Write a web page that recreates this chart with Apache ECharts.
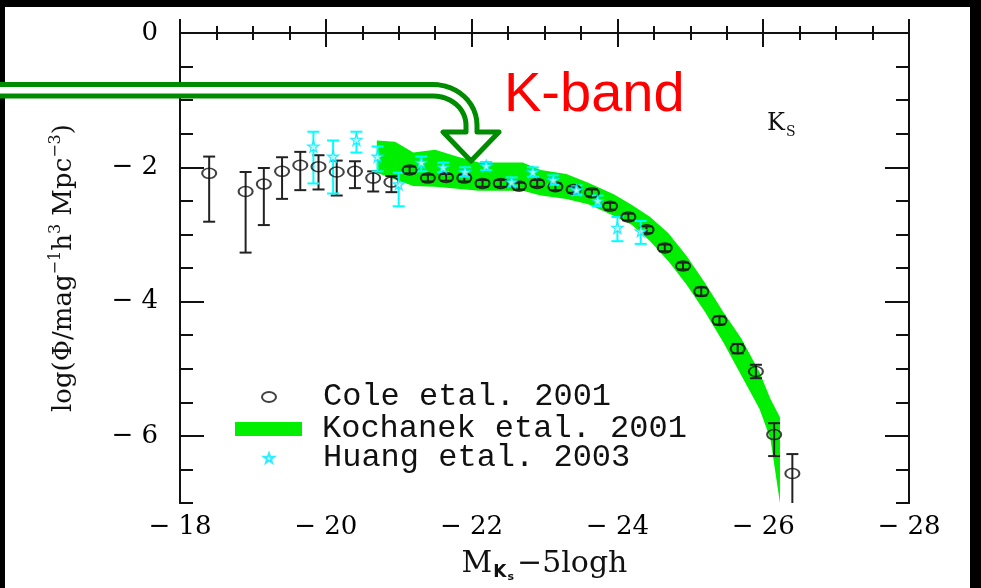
<!DOCTYPE html>
<html>
<head>
<meta charset="utf-8">
<script src="https://cdn.jsdelivr.net/npm/echarts@6/dist/echarts.min.js"></script>
<style>
html, body { margin: 0; padding: 0; background: #000; }
#box1 { width: 981px; height: 588px; }
</style>
</head>
<body>
<div id="box1"></div>
<script>
// Cole et al. 2001 (圆圈 + 误差棒)
var coleX  = [-18.40, -18.90, -19.15, -19.40, -19.65, -19.90, -20.15, -20.40, -20.65, -20.90, -21.15, -21.40, -21.65, -21.90, -22.15, -22.40, -22.65, -22.90, -23.15, -23.40, -23.65, -23.90, -24.15, -24.40, -24.65, -24.90, -25.15, -25.40, -25.65, -25.90, -26.15, -26.40];
var coleY  = [-2.09, -2.36, -2.25, -2.06, -1.97, -1.99, -2.07, -2.06, -2.16, -2.22, -2.04, -2.16, -2.15, -2.16, -2.24, -2.24, -2.28, -2.24, -2.29, -2.33, -2.38, -2.58, -2.74, -2.93, -3.20, -3.47, -3.85, -4.28, -4.70, -5.04, -5.98, -6.56];
var coleLo = [-2.81, -3.27, -2.86, -2.47, -2.34, -2.33, -2.42, -2.31, -2.36, -2.37, -2.09, -2.21, -2.20, -2.21, -2.29, -2.29, -2.33, -2.29, -2.34, -2.38, -2.43, -2.63, -2.79, -2.98, -3.25, -3.52, -3.91, -4.34, -4.77, -5.14, -6.30, -7.30];
var coleHi = [-1.84, -2.07, -2.01, -1.85, -1.77, -1.82, -1.90, -1.91, -2.06, -2.13, -1.99, -2.11, -2.10, -2.11, -2.19, -2.19, -2.23, -2.19, -2.24, -2.28, -2.33, -2.53, -2.69, -2.88, -3.15, -3.42, -3.79, -4.22, -4.63, -4.94, -5.81, -6.27];

// Huang et al. 2003 (星号 + 误差棒)
var huangX  = [-19.83, -20.10, -20.42, -20.71, -21.00, -21.31, -21.61, -21.91, -22.20, -22.55, -22.84, -23.12, -23.44, -23.73, -24.00, -24.32];
var huangY  = [-1.69, -1.84, -1.59, -1.84, -2.25, -1.93, -2.00, -2.07, -1.98, -2.22, -2.07, -2.19, -2.34, -2.50, -2.90, -2.95];
var huangLo = [-2.24, -2.39, -1.78, -2.06, -2.58, -2.06, -2.07, -2.14, -2.04, -2.28, -2.14, -2.26, -2.41, -2.58, -3.10, -3.14];
var huangHi = [-1.47, -1.60, -1.47, -1.69, -2.08, -1.84, -1.93, -2.00, -1.92, -2.15, -2.00, -2.12, -2.27, -2.42, -2.74, -2.80];

// Kochanek et al. 2001 (绿色带: 上下边界)
var bandX  = [-20.70, -20.95, -21.20, -21.50, -21.80, -22.10, -22.70, -22.95, -23.30, -23.60, -23.95, -24.20, -24.45, -24.70, -24.95, -25.20, -25.45, -25.70, -25.95, -26.10, -26.23];
var bandUp = [-1.60, -1.62, -1.78, -1.74, -1.84, -1.93, -1.93, -2.04, -2.10, -2.23, -2.40, -2.56, -2.74, -2.98, -3.32, -3.72, -4.15, -4.55, -5.05, -5.45, -5.72];
var bandLo = [-2.08, -2.18, -2.28, -2.29, -2.32, -2.35, -2.35, -2.42, -2.47, -2.55, -2.72, -2.86, -3.10, -3.40, -3.75, -4.15, -4.60, -5.10, -5.60, -6.05, -7.00];

// 刻度
var yMajor = [0, -2, -4, -6];

var ellipseIcon = 'path://M0 5C0 2.24 3.13 0 7 0C10.87 0 14 2.24 14 5C14 7.76 10.87 10 7 10C3.13 10 0 7.76 0 5Z';
var starIcon = 'path://M5 0L6.18 3.45L9.76 3.45L6.9 5.59L7.94 9.05L5 6.96L2.06 9.05L3.1 5.59L0.24 3.45L3.82 3.45Z';

function minusLabel(v) {
    if (v === 0) return '0';
    return '\u2212 ' + Math.abs(v);
}

// 误差棒
function errRender(color, cap) {
    return function (params, api) {
        var x = api.value(0);
        var top = api.coord([x, api.value(3)]);
        var bot = api.coord([x, api.value(2)]);
        var st = { stroke: color, lineWidth: 2 };
        return {
            type: 'group',
            children: [
                { type: 'line', shape: { x1: top[0], y1: top[1], x2: bot[0], y2: bot[1] }, style: st },
                { type: 'line', shape: { x1: top[0] - cap, y1: top[1], x2: top[0] + cap, y2: top[1] }, style: st },
                { type: 'line', shape: { x1: bot[0] - cap, y1: bot[1], x2: bot[0] + cap, y2: bot[1] }, style: st }
            ]
        };
    };
}

// 绿色箭头 (注释)
var arrowPts = [[-10, 84.5]];
for (var k = 0; k <= 12; k++) {
    var a = -Math.PI / 2 + k * Math.PI / 24;
    arrowPts.push([433 + 44 * Math.cos(a), 125 + 40.5 * Math.sin(a)]);
}
arrowPts.push([477, 132], [499, 132], [471, 161], [443, 132], [466, 132], [466, 125]);
for (var k2 = 0; k2 <= 12; k2++) {
    var b = -k2 * Math.PI / 24;
    arrowPts.push([433 + 33 * Math.cos(b), 125 + 29 * Math.sin(b)]);
}
arrowPts.push([-10, 96]);

var box1 = document.getElementById('box1');
var MyEcharts1 = echarts.init(box1);

var axisCol = '#111';
var xBase = {
    type: 'value', min: -28, max: -18, interval: 2, inverse: true,
    axisLine: { lineStyle: { color: axisCol, width: 2 } },
    axisTick: { inside: true, length: 14, lineStyle: { color: axisCol, width: 2 } },
    minorTick: { show: true, splitNumber: 4, length: 7, lineStyle: { color: axisCol, width: 2 } },
    splitLine: { show: false }
};
var yMinor = {
    type: 'value', min: -7, max: 0, interval: 0.5,
    axisLine: { show: true, lineStyle: { color: axisCol, width: 2 } },
    axisTick: { inside: true, length: 13, lineStyle: { color: axisCol, width: 2 } },
    axisLabel: { show: false },
    splitLine: { show: false }
};
var yMaj = {
    type: 'value', min: -7, max: 0, interval: 1,
    axisLine: { show: true, lineStyle: { color: axisCol, width: 2 } },
    axisTick: { inside: true, length: 24, customValues: yMajor, lineStyle: { color: axisCol, width: 2 } },
    splitLine: { show: false }
};
var legendText = { fontFamily: 'Liberation Mono', fontSize: 32, color: '#111' };

var option1 = {
    backgroundColor: '#000',
    animation: false,
    grid: { left: 180, top: 33, width: 729, height: 473, show: false },
    xAxis: [
        Object.assign({}, xBase, {
            position: 'bottom',
            axisLabel: { formatter: minusLabel, fontFamily: 'DejaVu Serif', fontSize: 26, color: '#000', margin: 11 },
            name: 'M{k|K}{s|s}\u22125logh',
            nameLocation: 'middle',
            nameGap: 31,
            nameTextStyle: {
                fontFamily: 'DejaVu Serif', fontSize: 30, color: '#111', lineHeight: 38,
                rich: {
                    k: { fontFamily: 'DejaVu Sans', fontWeight: 'bold', fontSize: 17, lineHeight: 17, padding: [19, 1, 2, 1], color: '#111' },
                    s: { fontFamily: 'DejaVu Sans', fontWeight: 'bold', fontSize: 11, lineHeight: 11, padding: [27, 3, 0, 0], color: '#111' }
                }
            }
        }),
        Object.assign({}, xBase, { position: 'top', axisLabel: { show: false } })
    ],
    yAxis: [
        Object.assign({}, yMinor, { position: 'left' }),
        Object.assign({}, yMaj, {
            position: 'left',
            axisLabel: { customValues: yMajor, formatter: minusLabel, fontFamily: 'DejaVu Serif', fontSize: 26, color: '#000', margin: 22 },
            name: 'log(\u03A6/mag{sup|\u22121}h{sup|3} Mpc{sup|\u22123})',
            nameLocation: 'middle',
            nameRotate: 90,
            nameGap: 100,
            nameTextStyle: {
                fontFamily: 'DejaVu Serif', fontSize: 26, color: '#111', lineHeight: 32,
                rich: { sup: { fontFamily: 'DejaVu Serif', fontSize: 16, lineHeight: 16, verticalAlign: 'top', color: '#111' } }
            }
        }),
        Object.assign({}, yMinor, { position: 'right' }),
        Object.assign({}, yMaj, { position: 'right', axisLabel: { show: false } })
    ],
    legend: [
        {
            data: [{ name: 'Cole etal. 2001', icon: ellipseIcon }],
            left: 261, top: 381, padding: 0, itemWidth: 14, itemHeight: 10, selectedMode: false,
            textStyle: Object.assign({ padding: [0, 0, 0, 42] }, legendText)
        },
        {
            data: [{ name: 'Kochanek etal. 2001', icon: 'rect' }],
            left: 235, top: 413, padding: 0, itemWidth: 67, itemHeight: 14, selectedMode: false,
            textStyle: Object.assign({ padding: [0, 0, 0, 15] }, legendText)
        },
        {
            data: [{ name: 'Huang etal. 2003', icon: starIcon }],
            left: 263, top: 442, padding: 0, itemWidth: 10, itemHeight: 10, selectedMode: false,
            textStyle: Object.assign({ padding: [0, 0, 0, 44] }, legendText)
        }
    ],
    graphic: [
        { type: 'rect', z: -10, shape: { x: 5, y: 7, width: 965, height: 581 }, style: { fill: '#fff' } },
        { type: 'text', left: 504, top: 68, style: { text: 'K-band', fill: '#ff0000', fontFamily: 'Liberation Sans', fontSize: 56 } },
        { type: 'text', left: 767, top: 112, style: { text: 'K', fill: '#111', fontFamily: 'DejaVu Serif', fontSize: 24 } },
        { type: 'text', left: 786, top: 125, style: { text: 'S', fill: '#111', fontFamily: 'DejaVu Serif', fontSize: 14 } },
        { type: 'polygon', z: 100, shape: { points: arrowPts }, style: { fill: '#fff', stroke: '#008c00', lineWidth: 5, lineJoin: 'round' } }
    ],
    series: [
        {
            name: 'Kochanek etal. 2001',
            type: 'custom',
            xAxisIndex: 0, yAxisIndex: 0,
            itemStyle: { color: '#00ee00' },
            clip: true,
            encode: { x: 0, y: [1, 2] },
            data: bandX.map(function (x, i) { return [x, bandUp[i], bandLo[i]]; }),
            renderItem: function (params, api) {
                if (params.dataIndex !== 0) return;
                var pts = [];
                for (var i = 0; i < bandX.length; i++) pts.push(api.coord([bandX[i], bandUp[i]]));
                for (var j = bandX.length - 1; j >= 0; j--) pts.push(api.coord([bandX[j], bandLo[j]]));
                return { type: 'polygon', shape: { points: pts }, style: { fill: api.visual('color') } };
            }
        },
        {
            name: 'coleErr',
            type: 'custom',
            xAxisIndex: 0, yAxisIndex: 0,
            clip: true,
            encode: { x: 0, y: [1, 2, 3] },
            data: coleX.map(function (x, i) { return [x, coleY[i], coleLo[i], coleHi[i]]; }),
            renderItem: errRender('#222', 6)
        },
        {
            name: 'huangErr',
            type: 'custom',
            xAxisIndex: 0, yAxisIndex: 0,
            clip: true,
            encode: { x: 0, y: [1, 2, 3] },
            data: huangX.map(function (x, i) { return [x, huangY[i], huangLo[i], huangHi[i]]; }),
            renderItem: errRender('#00ffff', 6)
        },
        {
            name: 'Cole etal. 2001',
            type: 'scatter',
            xAxisIndex: 0, yAxisIndex: 0,
            symbol: ellipseIcon,
            symbolSize: [14, 10],
            itemStyle: { color: 'rgba(255,255,255,0)', borderColor: '#111', borderWidth: 1.8 },
            data: coleX.map(function (x, i) { return [x, coleY[i]]; })
        },
        {
            name: 'Huang etal. 2003',
            type: 'scatter',
            xAxisIndex: 0, yAxisIndex: 0,
            symbol: starIcon,
            symbolSize: 11,
            itemStyle: { color: '#c8ffff', borderColor: '#00e8ff', borderWidth: 1.3 },
            data: huangX.map(function (x, i) { return [x, huangY[i]]; })
        }
    ]
};

MyEcharts1.setOption(option1);
</script>
</body>
</html>
